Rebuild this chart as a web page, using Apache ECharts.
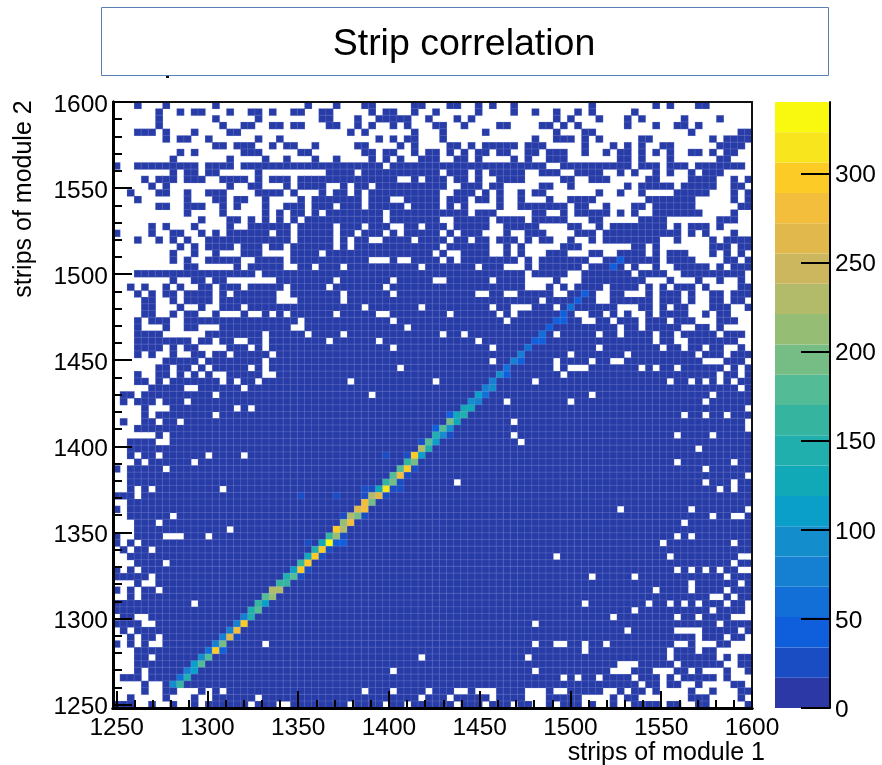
<!DOCTYPE html>
<html>
<head>
<meta charset="utf-8">
<style>html,body{margin:0;padding:0;background:#fff}#chart{width:882px;height:765px}</style>
<script src="https://cdn.jsdelivr.net/npm/echarts@6/dist/echarts.min.js"></script>
</head>
<body>
<div id="chart"></div>
<script>
var binCount = 90;
var baseValue = 6;

// occupied columns of rows 0-29 (top of the plot, mostly sparse)
var filledRows = [
    "3 7 14 27 31 35-36 42-43 47-48 51 53 56 67 76 78 82-83",
    "6 9 11-12 16 19-20 22 25-26 29-30 36 38-39 42 45 51 56 59 62 65 67 73",
    "6 14 20 29-30 34 37-41 44 48 50 62 64 68 72 74 80 85",
    "6 15 18-19 22-23 25-26 30-31 34 36 39 41 45-46 49 54-55 60-61 63 65 72 76 79-80 82",
    "3-5 7 11 16-17 33 35 42 46 52 62 66-67 81 88-89",
    "7 9-10 13 20 23 37 39 41-42 46 59 62-64 66 68 74-75 84 86-89",
    "14-15 17-19 22 24-25 28 34-35 40 42 47-48 50 52-56 58-60 66 70 72 74 77-78 85-88",
    "9 11 18-20 26-27 35-36 38-39 42 44-45 47 49 51-52 54-55 58-59 61-63 66 69 71-72 74 76 78 81-82 84 86-87",
    "8 16 21 24 28 31 36 38 40 43-45 48-49 51 56 58 61-63 71-72 74 78 85-86",
    "0 3-11 13-16 18-37 39-60 63-72 74-76 78-80 82-88",
    "8 10-11 13-14 20 30-33 35-45 47-49 51 53-57 60-62 65-68 71 73 76 78 81 83-85",
    "4 6-8 10-12 15-18 20 22-24 26-39 42 44-46 48-49 51 54-57 63-64 67-69 75-76 81-84 87 89",
    "5 7 16 19-20 24 26-29 32 34-35 37-46 49-51 53-54 60-61 64 72 74-78 80-84 87-88",
    "2 6-7 10 13-15 20-23 25 29 31-32 34 36-45 48-50 52 54 57 59-60 68 71 74 79-83 87 89",
    "3 10 14-15 17-18 21 26 28-34 36-38 41-45 47-49 51-52 54 57 61 64-67 75-81 87 89",
    "6-7 10-12 15 17 21 24-26 28-30 32-34 36-40 42-45 47 49 54 57-63 65-66 69 73-74 76-81 88-89",
    "10 15 21 23 25-26 28 30-37 39-49 51-53 59-60 63 65-69 71 73 76-82 87",
    "12 16-17 19 21 23 25 27-37 39-45 48-52 54-57 59-63 67-68 74-77 85-87",
    "5 7 11 16 19-24 26-30 32-34 36-38 41-42 44-46 48-52 55-59 64-65 68 70-77 79 81-83 85",
    "0 5 8-9 12 14 16-21 23-24 26-30 32-33 35-37 39 41-45 47 49-51 55 58-60 65-67 69-79 81 83 87",
    "3 6 8 10 13-24 26-30 32 34-35 38-41 43-46 48-49 51-52 54-56 58 60-61 64 67 69-76 79 84 86-89",
    "9 11 13-16 18-20 22-23 25-30 32 34-45 47-52 55 57 63-65 73-74 76 84-86 88-89",
    "8 11 14 18-20 25-28 30-44 46 49-52 55 57 61-63 67-68 71-74 76 78-80 84 86 88",
    "8 10 13-17 20-23 25-35 39 42-45 47 49-56 58 60-66 69-76 78-81 86-87 89",
    "10-11 17 19-23 26-27 29-31 33-42 44-50 52-54 58 60-65 67-71 73 76 79-83 85 87-89",
    "3-19 21-57 59-63 66-72 74-77 80-88",
    "8 11-12 14-15 23-30 32-38 40-44 47-52 54-57 62 66-74 78 82 85 88",
    "2 4 7 9 12-13 15-17 19-23 25-29 31-37 39-57 61 63 65-68 70-73 75 77 79-81 83 88-89",
    "3 5 7-8 10-13 15 17-22 25-31 33-38 40-50 53-54 57-61 64-67 70-71 75 77-79 81 84-85 87-89",
    "4-5 8 10-13 15-22 26-31 33-59 61-67 70-75 77-79 81 84-85 87-88"
];

// empty columns of rows 30-89 (everything else in the row is occupied)
var emptyRows = [
    "0-3 6-8 10-11 13-14 18 35 43 53 56-58 62 71-73 76 78 81-83 87-88",
    "0-3 6-7 9 12-13 15-17 19-20 22 24 31 37-38 47 54 56 65-66 69 71 73-74 76 81-82 84 87-89",
    "0-2 4 8-9 26 39 55 66-67 70 74 78 82-84 88-89",
    "0-2 4-6 8-9 12-14 25-26 41 71 74 80-81 84 86-89",
    "0-2 7-12 21 27 32 46 49 62 68 71 76 79 85 89",
    "0-2 11 14 17-18 21 30 37 51 76 79-80 88-89",
    "0-2 7 9 12-15 19 21 39 53 68 77 80 83 86-87 89",
    "0-2 4 6-7 9-10 13 16 22 64 72 82 86",
    "0-6 12 21 53 62 67 70-71 83-85 89",
    "0-5 8 11 13 19 21 40 62 64-66 74 76 79 86 88",
    "0-2 4-5 8 10 12 14-15 21-22 63 85 88",
    "0-2 5 7 15 17 20 33 45 59 78 81 83 85 87",
    "0-4 10-11 18 88",
    "0 3 14 36 67 84",
    "0 2 6 10 55 64 83",
    "0-3 5-7 17 19 89",
    "0-3 5 14 80 83 86",
    "0 2-3 6 9 56 89",
    "0-2 89",
    "0-5 7 56 79 84",
    "0-1 6-7 57",
    "0-1 82",
    "0-1 3 6 13 18",
    "0-2 4 11 79 87",
    "1 7 83",
    "0-1 89",
    "0-1 48 83 87",
    "0-1 3 5 15 85 87",
    "3",
    "0-1",
    "1 71 81 89",
    "0-1 8 84 87-88",
    "0-2 6 80",
    "0-2 16",
    "1-2 7-9 13 79 81",
    "1 3 77 87",
    "0 2 5",
    "0-1 62 78 88-89",
    "0-2 7 87",
    "1 3 79 81 83 85 88-89",
    "5 67 73 86",
    "0-2 4-5 81 88",
    "1 3 6 76 81 86",
    "0-1 3 84-85 87",
    "11 66 75 78 80 82 86 89",
    "73 84 89",
    "0 3-4 70 79 82 87-89",
    "4-5 59 85",
    "0 2 72 79-82 88",
    "0-1 3 6 82 86 89",
    "1 3 5-6 21 59 62-63 66 69 79-80 82-84 87-89",
    "0-2 66 78 82 85-89",
    "0-2 5 43 58 78 85 87",
    "0-2 71-73 79 86-87",
    "0-2 4 39 59 70-72 76-78 81 83-85 87-88",
    "0 4 63 65 68 73 77 79 85 87-89",
    "0-3 5-6 74 77 80-81 83-86 89",
    "0-3 5-6 9-11 13 15 35 39 44 48-49 51-53 58-60 62-63 69-70 72 75 77-80 82-83 85-87",
    "0-1 3-6 8-10 12-13 20 43 47 53 58-60 66-69 71 74-80 84-87 89",
    "3-4 6-7 9-10 12 19 23-24 33 38 41 48 52 56 59-60 62 66 68-69 71-72 77 80-81 84-88"
];

// cells along the correlation band: column, row from top, counts
var bandCells = [
    [71, 23, 50], [70, 24, 40], [66, 28, 45], [65, 29, 40], [64, 30, 55], [63, 31, 40],
    [62, 32, 35], [63, 32, 35], [61, 33, 35], [60, 34, 55], [59, 35, 40], [60, 35, 45],
    [58, 36, 55], [57, 37, 80], [56, 38, 80], [57, 38, 35], [55, 39, 60], [54, 40, 100],
    [55, 40, 45], [53, 41, 80], [52, 42, 85], [53, 42, 90], [51, 43, 105], [52, 43, 65],
    [50, 44, 90], [51, 44, 75], [49, 45, 125], [50, 45, 125], [47, 46, 40], [48, 46, 130],
    [49, 46, 145], [47, 47, 190], [48, 47, 120], [45, 48, 35], [46, 48, 175], [47, 48, 100],
    [45, 49, 150], [46, 49, 95], [47, 49, 30], [43, 50, 30], [44, 50, 175], [45, 50, 105],
    [43, 51, 230], [44, 51, 150], [38, 52, 30], [41, 52, 30], [42, 52, 300], [43, 52, 110],
    [41, 53, 165], [42, 53, 190], [40, 54, 180], [41, 54, 300], [42, 54, 30], [39, 55, 175],
    [40, 55, 285], [41, 55, 30], [38, 56, 165], [39, 56, 195], [40, 56, 25], [35, 57, 30],
    [36, 57, 30], [37, 57, 130], [38, 57, 315], [39, 57, 30], [40, 57, 30], [26, 58, 25],
    [31, 58, 30], [35, 58, 30], [36, 58, 230], [37, 58, 270], [38, 58, 25], [35, 59, 280],
    [36, 59, 190], [34, 60, 265], [35, 60, 280], [32, 61, 30], [33, 61, 225], [34, 61, 190],
    [35, 61, 25], [32, 62, 215], [33, 62, 285], [31, 63, 295], [32, 63, 225], [30, 64, 160],
    [31, 64, 220], [32, 64, 25], [27, 65, 30], [29, 65, 130], [30, 65, 335], [31, 65, 35],
    [32, 65, 35], [28, 66, 150], [29, 66, 290], [30, 66, 25], [27, 67, 130], [28, 67, 300],
    [29, 67, 30], [26, 68, 165], [27, 68, 305], [25, 69, 110], [26, 69, 295], [27, 69, 30],
    [24, 70, 145], [25, 70, 180], [26, 70, 30], [23, 71, 160], [24, 71, 170], [22, 72, 230],
    [23, 72, 225], [21, 73, 175], [22, 73, 215], [20, 74, 160], [21, 74, 115], [19, 75, 150],
    [20, 75, 180], [18, 76, 70], [19, 76, 150], [17, 77, 85], [18, 77, 305], [16, 78, 85],
    [17, 78, 275], [15, 79, 85], [16, 79, 270], [17, 79, 30], [14, 80, 70], [15, 80, 190],
    [13, 81, 60], [14, 81, 295], [15, 81, 45], [12, 82, 90], [13, 82, 175], [11, 83, 115],
    [12, 83, 180], [10, 84, 85], [11, 84, 115], [9, 85, 60], [10, 85, 145], [8, 86, 95],
    [9, 86, 155]
];

var levelStep = 17;
var levelColors = [
    "#2b38a5", "#1a4cc4", "#0f5fdc", "#126fd8", "#1580d2", "#148dcc", "#0a9fc8", "#11a8b7",
    "#20afac", "#35b5a0", "#53bb95", "#75bd85", "#95be74", "#b1bb69", "#ccb75f", "#e1b84c",
    "#f3be3b", "#fccb25", "#f8e51e", "#f9f90f"
];

var majorTicks = [1250, 1300, 1350, 1400, 1450, 1500, 1550, 1600];
var minorTicks = [
    1250, 1260, 1270, 1280, 1290, 1300, 1310, 1320, 1330, 1340, 1350, 1360, 1370, 1380, 1390,
    1400, 1410, 1420, 1430, 1440, 1450, 1460, 1470, 1480, 1490, 1500, 1510, 1520, 1530, 1540,
    1550, 1560, 1570, 1580, 1590, 1600
];
var barTicks = [0, 50, 100, 150, 200, 250, 300];

function parseColumns(text) {
    var on = {};
    text.split(" ").forEach(function (part) {
        var ends = part.split("-");
        var from = parseInt(ends[0]);
        var to = parseInt(ends[ends.length - 1]);
        for (var c = from; c <= to; c++) {
            on[c] = true;
        }
    });
    return on;
}

function buildCells() {
    var cells = {};
    filledRows.forEach(function (text, r) {
        var on = parseColumns(text);
        for (var c = 0; c < binCount; c++) {
            if (on[c]) cells[c + "_" + r] = baseValue;
        }
    });
    emptyRows.forEach(function (text, i) {
        var r = i + filledRows.length;
        var off = parseColumns(text);
        for (var c = 0; c < binCount; c++) {
            if (!off[c]) cells[c + "_" + r] = baseValue;
        }
    });
    bandCells.forEach(function (b) {
        cells[b[0] + "_" + b[1]] = b[2];
    });
    var out = [];
    Object.keys(cells).forEach(function (k) {
        var p = k.split("_");
        out.push([parseInt(p[0]), parseInt(p[1]), cells[k]]);
    });
    return out;
}

var binLabels = [];
for (var i = 0; i < binCount; i++) binLabels.push(i);

var font = "Liberation Sans";
var plotMin = 1248;
var plotMax = 1600;

function plainNumber(v) {
    return String(v);
}

function tickAxis(position, ticks, length, width, withLabels) {
    var horizontal = position === "bottom";
    var label = {
        show: true,
        customValues: ticks,
        formatter: plainNumber,
        color: "#000",
        fontFamily: font,
        fontSize: 24.5,
        margin: horizontal ? 8 : 5,
        showMinLabel: true,
        showMaxLabel: true
    };
    if (!horizontal) {
        // small line box hung under the tick pushes the digits down a little
        label.verticalAlign = "top";
        label.lineHeight = 6;
    }
    return {
        type: "value",
        position: position,
        z: 10,
        min: plotMin,
        max: plotMax,
        splitLine: { show: false },
        axisLine: { onZero: false, show: true, lineStyle: { color: "#000", width: 3 } },
        axisTick: { show: true, inside: true, length: length, customValues: ticks, lineStyle: { color: "#000", width: width } },
        axisLabel: withLabels ? label : { show: false }
    };
}

function frameAxis(position) {
    return {
        type: "value",
        position: position,
        z: 10,
        min: plotMin,
        max: plotMax,
        splitLine: { show: false },
        axisLine: { onZero: false, show: true, lineStyle: { color: "#111", width: 2 } },
        axisTick: { show: false },
        axisLabel: { show: false }
    };
}

var barSeries = levelColors.map(function (color, i) {
    return {
        type: "bar",
        xAxisIndex: 4,
        yAxisIndex: 4,
        stack: "levels",
        barWidth: "100%",
        silent: true,
        data: [levelStep],
        itemStyle: { color: color }
    };
});

var chart = echarts.init(document.getElementById("chart"), null, { renderer: "canvas" });
chart.setOption({
    animation: false,
    title: {
        text: "Strip correlation",
        left: 459,
        top: 21,
        textAlign: "center",
        textStyle: { fontFamily: font, fontWeight: "normal", fontSize: 37.5, color: "#000" }
    },
    grid: [
        { left: 113, top: 102, width: 639, height: 606 },
        { left: 775, top: 102, width: 55, height: 606 }
    ],
    visualMap: {
        show: false,
        type: "piecewise",
        seriesIndex: 0,
        dimension: 2,
        pieces: levelColors.map(function (color, i) {
            return { min: i * levelStep, max: (i + 1) * levelStep, color: i === 0 ? "#283ca8" : color };
        })
    },
    xAxis: [
        { type: "category", data: binLabels, show: false, gridIndex: 0 },
        tickAxis("bottom", majorTicks, 17, 2, true),
        tickAxis("bottom", minorTicks, 8, 2, false),
        frameAxis("top"),
        { type: "category", data: ["z"], show: false, gridIndex: 1 }
    ],
    yAxis: [
        { type: "category", data: binLabels, show: false, inverse: true, gridIndex: 0 },
        tickAxis("left", majorTicks, 19, 2, true),
        tickAxis("left", minorTicks, 9, 2, false),
        frameAxis("right"),
        {
            type: "value",
            gridIndex: 1,
            position: "right",
            z: 10,
            min: 0,
            max: levelStep * levelColors.length,
            splitLine: { show: false },
            axisLine: { show: true, lineStyle: { color: "#000", width: 2 } },
            axisTick: { show: true, inside: true, length: 29, customValues: barTicks, lineStyle: { color: "#000", width: 2 } },
            axisLabel: { customValues: barTicks, color: "#000", fontFamily: font, fontSize: 24.5, margin: 5, verticalAlign: "top", lineHeight: 4 }
        }
    ],
    series: [{
        type: "heatmap",
        xAxisIndex: 0,
        yAxisIndex: 0,
        silent: true,
        data: buildCells(),
        itemStyle: { borderColor: "rgba(190,200,240,0.35)", borderWidth: 0.5 }
    }].concat(barSeries),
    graphic: [
        {
            type: "rect",
            z: -1,
            shape: { x: 101.5, y: 7.5, width: 727, height: 68 },
            style: { fill: "#fff", stroke: "#5c80b4", lineWidth: 1 }
        },
        {
            type: "rect",
            shape: { x: 166, y: 76, width: 3, height: 2 },
            style: { fill: "#000" }
        },
        {
            type: "text",
            style: { x: 765, y: 753, text: "strips of module 1", fill: "#000", font: "25px " + font, textAlign: "right", textVerticalAlign: "middle" }
        },
        {
            type: "text",
            x: 24,
            y: 199,
            rotation: Math.PI / 2,
            style: { x: 0, y: 0, text: "strips of module 2", fill: "#000", font: "25px " + font, textAlign: "center", textVerticalAlign: "middle" }
        }
    ]
});
</script>
</body>
</html>
